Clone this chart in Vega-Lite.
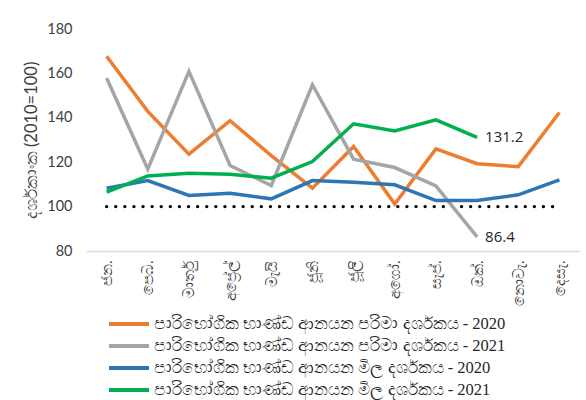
{
  "$schema": "https://vega.github.io/schema/vega-lite/v6.json",
  "width": 494,
  "height": 222,
  "autosize": {"type": "none"},
  "padding": {"left": 86, "top": 29, "right": 6, "bottom": 149},
  "background": "white",
  "config": {
    "view": {"stroke": null},
    "font": "Lato"
  },
  "datasets": {
    "main": [
      {"month": "ජන.", "series": "පාරිභෝගික භාණ්ඩ ආනයන පරිමා දර්ශකය - 2020", "value": 167.7},
      {"month": "පෙබ.", "series": "පාරිභෝගික භාණ්ඩ ආනයන පරිමා දර්ශකය - 2020", "value": 142.9},
      {"month": "මාර්තු", "series": "පාරිභෝගික භාණ්ඩ ආනයන පරිමා දර්ශකය - 2020", "value": 123.6},
      {"month": "අප්‍රේල්", "series": "පාරිභෝගික භාණ්ඩ ආනයන පරිමා දර්ශකය - 2020", "value": 138.7},
      {"month": "මැයි", "series": "පාරිභෝගික භාණ්ඩ ආනයන පරිමා දර්ශකය - 2020", "value": 123.0},
      {"month": "ජූනි", "series": "පාරිභෝගික භාණ්ඩ ආනයන පරිමා දර්ශකය - 2020", "value": 108.3},
      {"month": "ජූලි", "series": "පාරිභෝගික භාණ්ඩ ආනයන පරිමා දර්ශකය - 2020", "value": 127.1},
      {"month": "අගෝ.", "series": "පාරිභෝගික භාණ්ඩ ආනයන පරිමා දර්ශකය - 2020", "value": 101.2},
      {"month": "සැප්.", "series": "පාරිභෝගික භාණ්ඩ ආනයන පරිමා දර්ශකය - 2020", "value": 126.0},
      {"month": "ඔක්.", "series": "පාරිභෝගික භාණ්ඩ ආනයන පරිමා දර්ශකය - 2020", "value": 119.3},
      {"month": "නොවැ.", "series": "පාරිභෝගික භාණ්ඩ ආනයන පරිමා දර්ශකය - 2020", "value": 118.0},
      {"month": "දෙසැ.", "series": "පාරිභෝගික භාණ්ඩ ආනයන පරිමා දර්ශකය - 2020", "value": 142.4},
      {"month": "ජන.", "series": "පාරිභෝගික භාණ්ඩ ආනයන පරිමා දර්ශකය - 2021", "value": 157.9},
      {"month": "පෙබ.", "series": "පාරිභෝගික භාණ්ඩ ආනයන පරිමා දර්ශකය - 2021", "value": 116.9},
      {"month": "මාර්තු", "series": "පාරිභෝගික භාණ්ඩ ආනයන පරිමා දර්ශකය - 2021", "value": 160.9},
      {"month": "අප්‍රේල්", "series": "පාරිභෝගික භාණ්ඩ ආනයන පරිමා දර්ශකය - 2021", "value": 118.5},
      {"month": "මැයි", "series": "පාරිභෝගික භාණ්ඩ ආනයන පරිමා දර්ශකය - 2021", "value": 109.5},
      {"month": "ජූනි", "series": "පාරිභෝගික භාණ්ඩ ආනයන පරිමා දර්ශකය - 2021", "value": 154.9},
      {"month": "ජූලි", "series": "පාරිභෝගික භාණ්ඩ ආනයන පරිමා දර්ශකය - 2021", "value": 121.4},
      {"month": "අගෝ.", "series": "පාරිභෝගික භාණ්ඩ ආනයන පරිමා දර්ශකය - 2021", "value": 117.6},
      {"month": "සැප්.", "series": "පාරිභෝගික භාණ්ඩ ආනයන පරිමා දර්ශකය - 2021", "value": 109.3},
      {"month": "ඔක්.", "series": "පාරිභෝගික භාණ්ඩ ආනයන පරිමා දර්ශකය - 2021", "value": 86.4},
      {"month": "ජන.", "series": "පාරිභෝගික භාණ්ඩ ආනයන මිල දර්ශකය - 2020", "value": 108.3},
      {"month": "පෙබ.", "series": "පාරිභෝගික භාණ්ඩ ආනයන මිල දර්ශකය - 2020", "value": 111.7},
      {"month": "මාර්තු", "series": "පාරිභෝගික භාණ්ඩ ආනයන මිල දර්ශකය - 2020", "value": 105.0},
      {"month": "අප්‍රේල්", "series": "පාරිභෝගික භාණ්ඩ ආනයන මිල දර්ශකය - 2020", "value": 106.0},
      {"month": "මැයි", "series": "පාරිභෝගික භාණ්ඩ ආනයන මිල දර්ශකය - 2020", "value": 103.5},
      {"month": "ජූනි", "series": "පාරිභෝගික භාණ්ඩ ආනයන මිල දර්ශකය - 2020", "value": 111.7},
      {"month": "ජූලි", "series": "පාරිභෝගික භාණ්ඩ ආනයන මිල දර්ශකය - 2020", "value": 111.0},
      {"month": "අගෝ.", "series": "පාරිභෝගික භාණ්ඩ ආනයන මිල දර්ශකය - 2020", "value": 109.8},
      {"month": "සැප්.", "series": "පාරිභෝගික භාණ්ඩ ආනයන මිල දර්ශකය - 2020", "value": 102.7},
      {"month": "ඔක්.", "series": "පාරිභෝගික භාණ්ඩ ආනයන මිල දර්ශකය - 2020", "value": 102.7},
      {"month": "නොවැ.", "series": "පාරිභෝගික භාණ්ඩ ආනයන මිල දර්ශකය - 2020", "value": 105.3},
      {"month": "දෙසැ.", "series": "පාරිභෝගික භාණ්ඩ ආනයන මිල දර්ශකය - 2020", "value": 112.0},
      {"month": "ජන.", "series": "පාරිභෝගික භාණ්ඩ ආනයන මිල දර්ශකය - 2021", "value": 106.5},
      {"month": "පෙබ.", "series": "පාරිභෝගික භාණ්ඩ ආනයන මිල දර්ශකය - 2021", "value": 113.8},
      {"month": "මාර්තු", "series": "පාරිභෝගික භාණ්ඩ ආනයන මිල දර්ශකය - 2021", "value": 115.0},
      {"month": "අප්‍රේල්", "series": "පාරිභෝගික භාණ්ඩ ආනයන මිල දර්ශකය - 2021", "value": 114.6},
      {"month": "මැයි", "series": "පාරිභෝගික භාණ්ඩ ආනයන මිල දර්ශකය - 2021", "value": 112.8},
      {"month": "ජූනි", "series": "පාරිභෝගික භාණ්ඩ ආනයන මිල දර්ශකය - 2021", "value": 120.3},
      {"month": "ජූලි", "series": "පාරිභෝගික භාණ්ඩ ආනයන මිල දර්ශකය - 2021", "value": 137.3},
      {"month": "අගෝ.", "series": "පාරිභෝගික භාණ්ඩ ආනයන මිල දර්ශකය - 2021", "value": 134.1},
      {"month": "සැප්.", "series": "පාරිභෝගික භාණ්ඩ ආනයන මිල දර්ශකය - 2021", "value": 139.1},
      {"month": "ඔක්.", "series": "පාරිභෝගික භාණ්ඩ ආනයන මිල දර්ශකය - 2021", "value": 131.2}
    ],
    "base": [
      {"month": "ජන.", "value": 100}, {"month": "පෙබ.", "value": 100}, {"month": "මාර්තු", "value": 100},
      {"month": "අප්‍රේල්", "value": 100}, {"month": "මැයි", "value": 100}, {"month": "ජූනි", "value": 100},
      {"month": "ජූලි", "value": 100}, {"month": "අගෝ.", "value": 100}, {"month": "සැප්.", "value": 100},
      {"month": "ඔක්.", "value": 100}, {"month": "නොවැ.", "value": 100}, {"month": "දෙසැ.", "value": 100}
    ]
  },
  "encoding": {
    "x": {
      "field": "month", "type": "nominal", "sort": null,
      "scale": {"domain": ["ජන.", "පෙබ.", "මාර්තු", "අප්‍රේල්", "මැයි", "ජූනි", "ජූලි", "අගෝ.", "සැප්.", "ඔක්.", "නොවැ.", "දෙසැ."], "paddingInner": 0, "paddingOuter": 0},
      "axis": {"title": null, "labelAngle": -90, "labelFontSize": 15, "labelColor": "#404040", "ticks": false, "domainColor": "#D9D9D9", "domainWidth": 1.3, "labelPadding": 9, "grid": false}
    },
    "y": {
      "field": "value", "type": "quantitative",
      "scale": {"domain": [80, 180], "nice": false},
      "axis": {"title": "දර්ශකාංක (2010=100)", "values": [80, 100, 120, 140, 160, 180], "grid": false, "domain": false, "ticks": false, "labelFontSize": 14.5, "labelColor": "#404040", "labelPadding": 14, "titleFontSize": 16.5, "titleColor": "#404040", "titleFontWeight": "normal", "titlePadding": 7}
    }
  },
  "layer": [
    {
      "data": {"name": "base"},
      "mark": {"type": "line", "color": "black", "strokeWidth": 3.3, "strokeDash": [0.1, 9], "strokeCap": "round"}
    },
    {
      "data": {"name": "main"},
      "mark": {"type": "line", "strokeWidth": 3.5},
      "encoding": {
        "color": {
          "field": "series", "type": "nominal",
          "scale": {
            "domain": ["පාරිභෝගික භාණ්ඩ ආනයන පරිමා දර්ශකය - 2020", "පාරිභෝගික භාණ්ඩ ආනයන පරිමා දර්ශකය - 2021", "පාරිභෝගික භාණ්ඩ ආනයන මිල දර්ශකය - 2020", "පාරිභෝගික භාණ්ඩ ආනයන මිල දර්ශකය - 2021"],
            "range": ["#ED7D31", "#A5A5A5", "#2E75B6", "#00B050"]
          },
          "legend": {
            "title": null, "orient": "none", "legendX": 21, "legendY": 284, "direction": "vertical",
            "symbolType": "stroke", "symbolStrokeWidth": 4, "symbolSize": 1600,
            "clipHeight": 22, "rowPadding": 0,
            "labelFontSize": 16.5, "labelColor": "#262626", "labelFont": "Liberation Serif", "labelOffset": 3, "labelLimit": 500
          }
        }
      }
    },
    {
      "data": {"name": "main"},
      "transform": [{"filter": "datum.month == 'ඔක්.' && indexof(datum.series, '2021') >= 0"}],
      "mark": {"type": "text", "align": "left", "dx": 8, "dy": 0, "fontSize": 15, "color": "#262626", "font": "Open Sans"},
      "encoding": {"text": {"field": "value", "type": "quantitative", "format": ".1f"}}
    }
  ]
}
